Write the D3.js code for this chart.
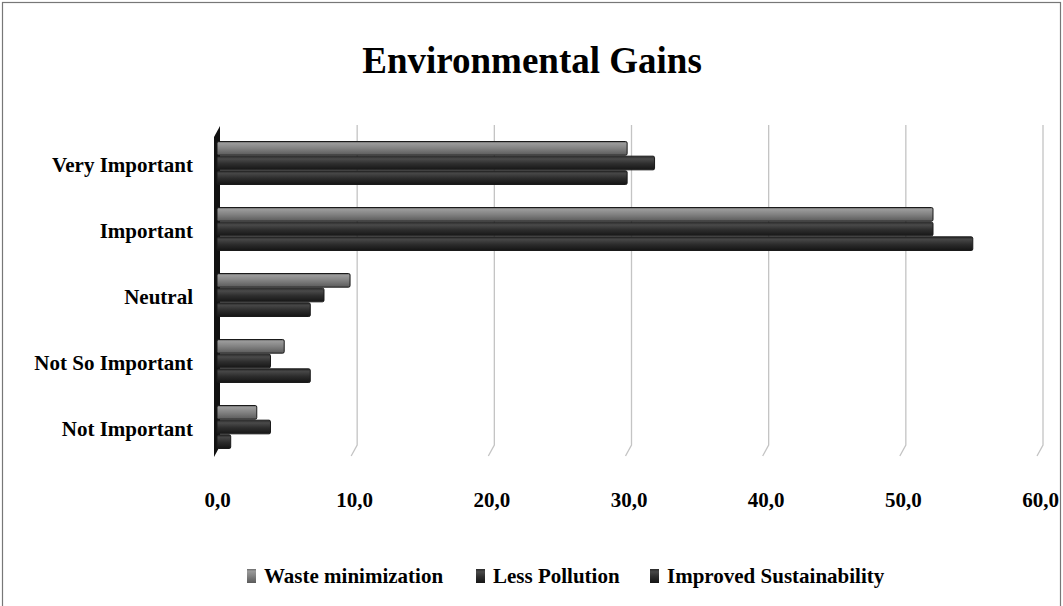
<!DOCTYPE html>
<html><head><meta charset="utf-8">
<script src="https://cdn.jsdelivr.net/npm/d3@7"></script>
<style>body{margin:0;background:#fff}svg{display:block}text{font-family:"Liberation Serif","Times New Roman",serif;font-weight:bold;fill:#000}</style>
</head><body>
<svg id="c" width="1063" height="606"></svg>
<script>
const categories = ["Very Important","Important","Neutral","Not So Important","Not Important"];
const seriesNames = ["Waste minimization","Less Pollution","Improved Sustainability"];
const wasteMinimization = [29.9, 52.2, 9.7, 4.9, 2.9];
const lessPollution = [31.9, 52.2, 7.8, 3.9, 3.9];
const improvedSustainability = [29.9, 55.1, 6.8, 6.8, 1.0];
const tickValues = [0,10,20,30,40,50,60];
const tickLabels = ["0,0","10,0","20,0","30,0","40,0","50,0","60,0"];

const seriesValues = [wasteMinimization, lessPollution, improvedSustainability];
const svg = d3.select("#c");
const defs = svg.append("defs");
const grads = [
  {id:"g0", stops:[["0%","#6a6a6a"],["15%","#9a9a9a"],["50%","#828282"],["100%","#5a5a5a"]]},
  {id:"g1", stops:[["0%","#2a2a2a"],["20%","#4a4a4a"],["55%","#2e2e2e"],["100%","#161616"]]},
  {id:"g2", stops:[["0%","#2a2a2a"],["20%","#464646"],["55%","#2c2c2c"],["100%","#141414"]]}
];
grads.forEach(g=>{
  const lg = defs.append("linearGradient").attr("id",g.id).attr("x1",0).attr("y1",0).attr("x2",0).attr("y2",1);
  g.stops.forEach(s=>lg.append("stop").attr("offset",s[0]).attr("stop-color",s[1]));
});

// frame
svg.append("rect").attr("x",2.5).attr("y",2.5).attr("width",1058).attr("height",620)
  .attr("fill","none").attr("stroke","#777").attr("stroke-width",1.2);

svg.append("text").attr("x",532).attr("y",73).attr("text-anchor","middle")
  .style("font-size","37px").text("Environmental Gains");

const x = d3.scaleLinear().domain([0,60]).range([217,1040]);
const y = d3.scaleBand().domain(categories).range([130,460]).paddingInner(1/3).paddingOuter(1/6);
const ys = d3.scaleBand().domain(seriesNames).range([0, y.bandwidth()]);

// gridlines (3D back plane + floor diagonal)
const gl = svg.append("g");
tickValues.slice(1).forEach(v=>{
  const xb = x(v)+3;
  gl.append("path").attr("d",`M${xb},125 L${xb},445 L${xb-6},456`)
    .attr("fill","none").attr("stroke","#c4c4c4").attr("stroke-width",1.3);
});

// left wall
svg.append("path").attr("d","M214,137 L220,126 L220,446 L214,457 Z").attr("fill","#111");

// bars
const data = [];
categories.forEach((c,i)=>seriesNames.forEach((s,j)=>data.push({c, s, j, v: seriesValues[j][i]})));
svg.append("g").selectAll("rect").data(data).join("rect")
  .attr("x", x(0)).attr("y", d=>y(d.c)+ys(d.s)+0.5)
  .attr("width", d=>x(d.v)-x(0)).attr("height", ys.bandwidth()-1)
  .attr("rx",1.5)
  .attr("fill", d=>`url(#g${d.j})`).attr("stroke","#1a1a1a").attr("stroke-width",1);

// category labels
const yAxis = d3.axisLeft(y).tickSize(0).tickPadding(0);
const ya = svg.append("g").attr("transform","translate(193,0)").call(yAxis);
ya.select(".domain").remove();
ya.selectAll("text").style("font-size","21px").style("font-family",'"Liberation Serif",serif').attr("dy","0.45em");

// x axis labels
const xAxis = d3.axisBottom(x).tickValues(tickValues).tickFormat((d,i)=>tickLabels[i]).tickSize(0).tickPadding(0);
const xa = svg.append("g").attr("transform","translate(0,507)").call(xAxis);
xa.select(".domain").remove();
xa.selectAll("text").attr("dy","0").style("font-size","21px").style("font-family",'"Liberation Serif",serif');

// legend
const legX = [247, 476, 650];
const lg = svg.append("g");
seriesNames.forEach((s,j)=>{
  lg.append("rect").attr("x",legX[j]).attr("y",569).attr("width",9).attr("height",14).attr("fill",`url(#g${j})`);
  lg.append("text").attr("x",legX[j]+17).attr("y",583).style("font-size","21px").text(s);
});
</script>
</body></html>
